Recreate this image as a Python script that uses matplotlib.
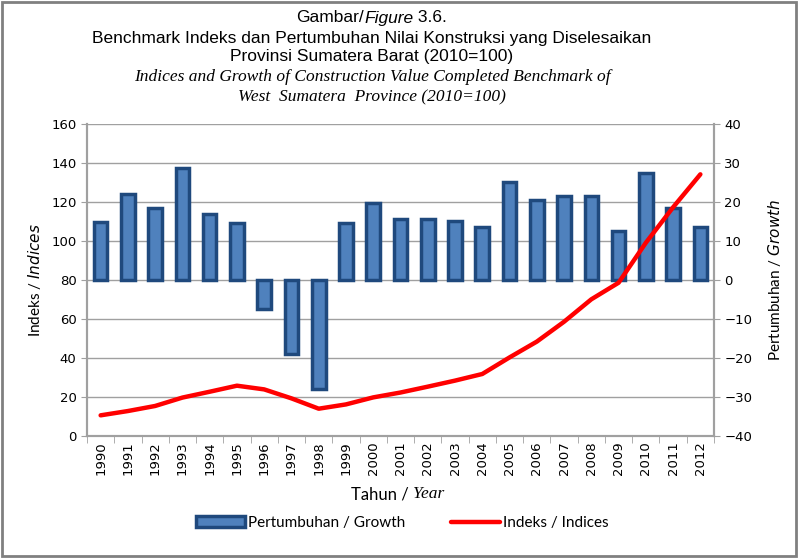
import matplotlib.pyplot as plt
import numpy as np
from matplotlib.patches import Rectangle

years = [str(y) for y in range(1990, 2013)]
growth = [14.9, 22.0, 18.4, 28.8, 16.8, 14.6, -7.5, -19.1, -27.9, 14.6, 19.8, 15.6,
          15.6, 15.1, 13.5, 25.2, 20.4, 21.5, 21.5, 12.6, 27.4, 18.5, 13.5]
indices = [10.6, 12.8, 15.4, 19.7, 22.7, 25.8, 23.9, 19.3, 14.0, 16.2, 19.8, 22.3,
           25.3, 28.4, 31.8, 40.3, 48.4, 58.6, 70.1, 78.6, 99.1, 117.3, 134.2]

fig = plt.figure(figsize=(7.98, 5.58), dpi=100)
ax1 = fig.add_axes([87/798, 1-436/558, 627/798, 312/558])
ax2 = ax1.twinx()
ax1.set_zorder(2)
ax1.patch.set_visible(False)

x = np.arange(len(years))
grid_c = '#a0a0a0'

# bars on the right (growth) axis
ax2.set_ylim(-40, 40)
ax2.set_yticks(range(-40, 41, 10))
ax2.yaxis.grid(True, color=grid_c, lw=1)
ax2.set_axisbelow(True)
ax2.bar(x, growth, width=0.5, color='#4f81bd', edgecolor='#1f497d', linewidth=2.5,
        label='Pertumbuhan / Growth', zorder=3)

# line on the left (index) axis
ax1.plot(x, indices, color='#ff0000', lw=3.2, solid_capstyle='round',
         label='Indeks / Indices')
ax1.set_ylim(0, 160)
ax1.set_yticks(range(0, 161, 20))
ax1.set_xlim(-0.5, len(years) - 0.5)
ax1.set_xticks(x)
ax1.set_xticklabels(years, rotation=90, fontsize=9.5, family='DejaVu Sans')
ax1.set_xticks(np.arange(-0.5, len(years)), minor=True)
ax1.tick_params(axis='x', which='major', length=0, pad=4)
ax1.tick_params(axis='x', which='minor', length=5, color=grid_c)
ax1.tick_params(axis='y', labelsize=9.5, length=4, color=grid_c)
ax2.tick_params(axis='y', labelsize=9.5, length=4, color=grid_c)

for a in (ax1, ax2):
    for s in a.spines.values():
        s.set_color(grid_c)
        s.set_linewidth(1.5)
    a.spines['top'].set_visible(False)

ax1.set_ylabel('Indeks / $\\it{Indices}$', fontsize=11, family='Lato', labelpad=6)
ax2.set_ylabel('Pertumbuhan / $\\it{Growth}$', fontsize=11, family='Lato', labelpad=10)

renderer = fig.canvas.get_renderer()


def text_row(y, parts, cx):
    # parts: list of (string, fontprops dict); laid out left to right, centred on cx
    objs = [fig.text(0, y, s, va='center', ha='left', **kw) for s, kw in parts]
    widths = [o.get_window_extent(renderer).width / fig.bbox.width for o in objs]
    xpos = cx - sum(widths) / 2
    for o, w in zip(objs, widths):
        o.set_x(xpos)
        xpos += w


sans = dict(family='Liberation Sans', fontsize=12.5)
serif_i = dict(family='Liberation Serif', fontsize=12.5, style='italic')
cx = 372/798
text_row(1-18/558, [('Gambar/', sans), ('Figure', dict(sans, style='italic')),
                    (' 3.6.', sans)], cx)
text_row(1-38/558, [('Benchmark Indeks dan Pertumbuhan Nilai Konstruksi yang Diselesaikan', sans)], cx)
text_row(1-57/558, [('Provinsi Sumatera Barat (2010=100)', sans)], cx)
text_row(1-77/558, [('Indices and Growth of Construction Value Completed Benchmark of', serif_i)], cx)
text_row(1-97/558, [('West  Sumatera  Province (2010=100)', serif_i)], cx)
text_row(1-494/558, [('Tahun / ', dict(family='Lato', fontsize=12)),
                     ('Year', dict(family='Liberation Serif', fontsize=12.5, style='italic'))],
         398/798)

h1, l1 = ax2.get_legend_handles_labels()
h2, l2 = ax1.get_legend_handles_labels()
fig.legend(h1 + h2, l1 + l2, loc='center', bbox_to_anchor=(402/798, 1-523/558), ncol=2,
           frameon=False, prop={'family': 'Lato', 'size': 11}, handlelength=3.2,
           handletextpad=0.2, columnspacing=3)

fig.patches.append(Rectangle((0.003, 0.004), 0.994, 0.992, transform=fig.transFigure,
                             fill=False, edgecolor='#808080', lw=2))

fig.savefig('out.png', dpi=100)
